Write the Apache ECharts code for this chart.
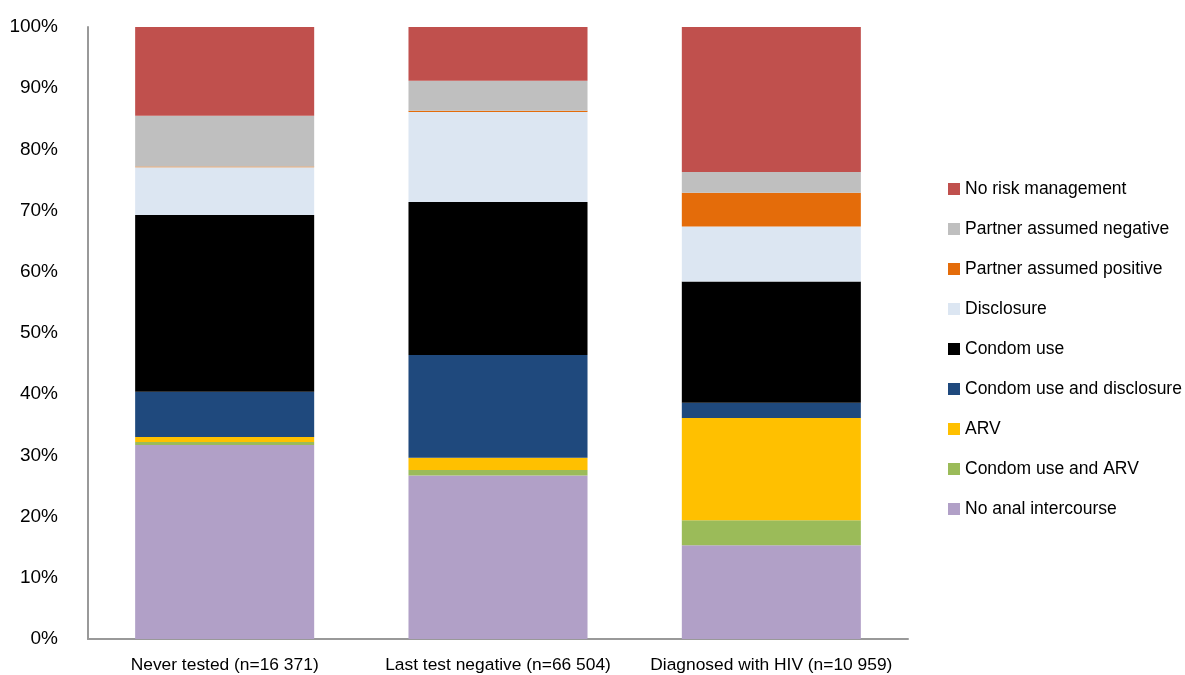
<!DOCTYPE html>
<html><head><meta charset="utf-8">
<script src="https://cdn.jsdelivr.net/npm/echarts@6/dist/echarts.min.js"></script>
<style>html,body{margin:0;padding:0;background:#fff}#c{width:1185px;height:675px}</style>
</head><body><div id="c"></div>
<script>
const categories = ['Never tested (n=16 371)', 'Last test negative (n=66 504)', 'Diagnosed with HIV (n=10 959)'];
const noAnal = [31.7, 26.7, 15.3];
const condomARV = [0.5, 0.9, 4.1];
const arv = [0.8, 2.0, 16.7];
const condomDisclosure = [7.4, 16.8, 2.5];
const condomUse = [28.9, 25.0, 19.8];
const disclosure = [7.8, 14.7, 9.0];
const partnerPositive = [0.1, 0.2, 5.5];
const partnerNegative = [8.3, 4.9, 3.4];
const noRisk = [14.5, 8.8, 23.7];
const yTicks = [0, 10, 20, 30, 40, 50, 60, 70, 80, 90, 100];

const seriesDefs = [
  ['No anal intercourse', noAnal, '#B1A0C7'],
  ['Condom use and ARV', condomARV, '#9BBB59'],
  ['ARV', arv, '#FFC000'],
  ['Condom use and disclosure', condomDisclosure, '#1F497D'],
  ['Condom use', condomUse, '#000000'],
  ['Disclosure', disclosure, '#DCE6F2'],
  ['Partner assumed positive', partnerPositive, '#E46C0A'],
  ['Partner assumed negative', partnerNegative, '#BFBFBF'],
  ['No risk management', noRisk, '#C0504D']
];

const chart = echarts.init(document.getElementById('c'));
chart.setOption({
  animation: false,
  grid: {left: 88, right: 277, top: 27, bottom: 36},
  legend: {
    orient: 'vertical', left: 943, top: 175,
    itemWidth: 12, itemHeight: 12, itemGap: 22, icon: 'rect',
    data: seriesDefs.map(s => s[0]).reverse(),
    textStyle: {fontFamily: 'Liberation Sans, Arial, sans-serif', fontSize: 17.5, color: '#000'}
  },
  xAxis: {
    type: 'category', data: categories,
    axisLine: {lineStyle: {color: '#999', width: 2}},
    axisTick: {show: false},
    axisLabel: {fontFamily: 'Liberation Sans, Arial, sans-serif', fontSize: 17.4, color: '#000', margin: 18, interval: 0}
  },
  yAxis: {
    type: 'value', min: yTicks[0], max: yTicks[yTicks.length - 1], interval: 10,
    axisLine: {show: true, lineStyle: {color: '#999', width: 2}},
    axisTick: {show: false},
    splitLine: {show: false},
    axisLabel: {formatter: '{value}%', fontFamily: 'Liberation Sans, Arial, sans-serif', fontSize: 19, color: '#000', margin: 30}
  },
  series: seriesDefs.map(([name, data, color]) => ({
    name, type: 'bar', stack: 'all', data, barWidth: '65.5%',
    itemStyle: {color}
  }))
});
</script></body></html>
